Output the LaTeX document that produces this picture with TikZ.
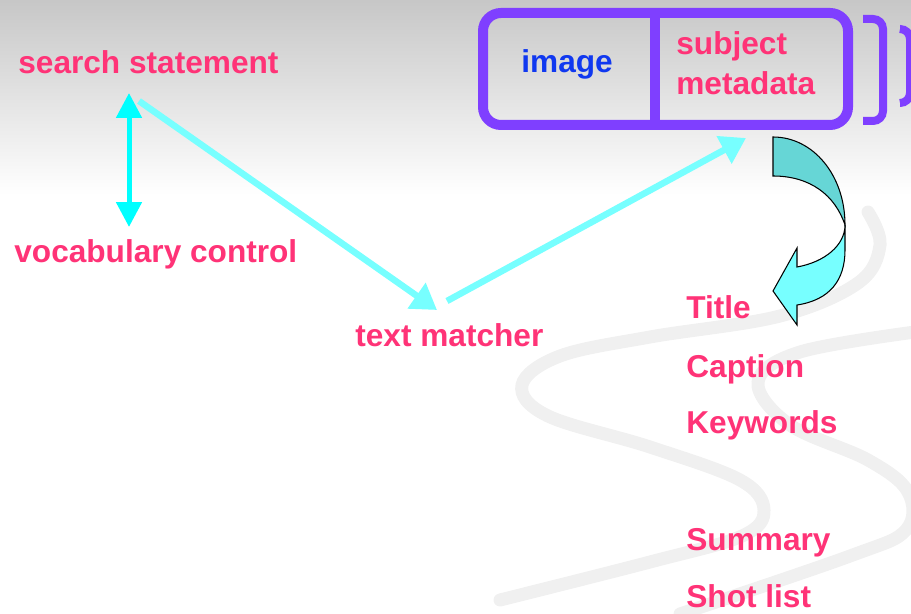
\documentclass[tikz,border=0pt]{standalone}
\usepackage{fontspec}
\setmainfont{Liberation Sans}
\usetikzlibrary{arrows.meta}

\definecolor{labelpink}{HTML}{FF3377}
\definecolor{imageblue}{HTML}{1038F0}
\definecolor{recordviolet}{HTML}{7F3FFF}
\definecolor{linkcyan}{HTML}{00FFFF}
\definecolor{flowcyan}{HTML}{77FFFF}
\definecolor{turnteal}{HTML}{66D6D6}

\tikzset{
    label text/.style={anchor=base west, inner sep=0pt, text=labelpink,
        font=\fontsize{18}{21.6}\selectfont\bfseries},
    record line/.style={recordviolet, line width=0.2cm, rounded corners=0.36cm},
    bracket line/.style={recordviolet, line width=0.16cm, rounded corners=0.2cm},
    link arrow/.style={linkcyan, line width=0.1cm,
        {Triangle[width=0.5cm,length=0.5cm]}-{Triangle[width=0.5cm,length=0.5cm]}},
    flow arrow/.style={flowcyan, line width=0.13cm,
        -{Triangle[width=0.6cm,length=0.5cm]}},
    swoosh/.style={black!6, line width=0.26cm, line cap=round},
    turn band/.style={draw=black, line width=0.6pt, line join=miter}
}

\begin{document}
\begin{tikzpicture}[x=0.02cm, y=-0.02cm]

    \useasboundingbox (0,0) rectangle (911,614);
    \clip (0,0) rectangle (911,614);

    % Background: grey fade at the top and the two swooshes
    \shade[top color=black!22, bottom color=white] (0,0) rectangle (911,195);
    \draw[swoosh] plot[smooth, tension=0.6] coordinates {(868,212) (880,245) (858,283)
        (780,316) (650,337) (560,356) (522,385) (548,416) (650,447) (740,480)
        (764,510) (742,536) (650,562) (500,600)};
    \draw[swoosh] plot[smooth, tension=0.6] coordinates {(915,332) (800,352) (758,382)
        (790,425) (868,460) (908,492) (906,530) (850,556) (680,614)};

    % Define coordinates for the arrow ends
    \coordinate (voc-top) at (129,93);
    \coordinate (voc-bot) at (129,227);
    \coordinate (query-out) at (139,101);
    \coordinate (match-in) at (437,310);
    \coordinate (match-out) at (447,301);
    \coordinate (record-in) at (746,138);

    % Text labels
    \node[label text] (search) at (18,74) {search statement};
    \node[label text] (vocab) at (14,263) {vocabulary control};
    \node[label text] (matcher) at (355,346) {text matcher};

    % Draw the image record with its two fields
    \draw[record line] (483,13) rectangle (848,125);
    \draw[recordviolet, line width=0.2cm] (655,13) -- (655,125);
    \node[label text, text=imageblue] (image) at (521,73) {image};
    \node[label text] (subject) at (676,55) {subject};
    \node[label text] (metadata) at (676,95) {metadata};

    % Brackets to the right of the record
    \draw[bracket line] (863,19) -- (883,19) -- (883,121) -- (863,121);
    \draw[bracket line] (900,29) -- (910,29) -- (910,103) -- (900,103);

    % Draw the arrows
    \draw[link arrow] (voc-top) -- (voc-bot);
    \draw[flow arrow] (query-out) -- (match-in);
    \draw[flow arrow] (match-out) -- (record-in);

    % Draw the turning arrow down to the field list
    \draw[turn band, fill=turnteal] (773,137) .. controls (813,137) and (845,175) .. (845,225)
        .. controls (835,195) and (810,176) .. (773,176) -- cycle;
    \draw[turn band, fill=flowcyan] (845,225) .. controls (845,245) and (825,262) .. (797,267)
        -- (797,248) -- (773,291) -- (797,325) -- (797,305)
        .. controls (830,300) and (845,280) .. (845,250) -- cycle;

    % Field list
    \node[label text] (title) at (686,318) {Title};
    \node[label text] (caption) at (686,377) {Caption};
    \node[label text] (keywords) at (686,433) {Keywords};
    \node[label text] (summary) at (686,550) {Summary};
    \node[label text] (shotlist) at (686,607) {Shot list};

\end{tikzpicture}
\end{document}
